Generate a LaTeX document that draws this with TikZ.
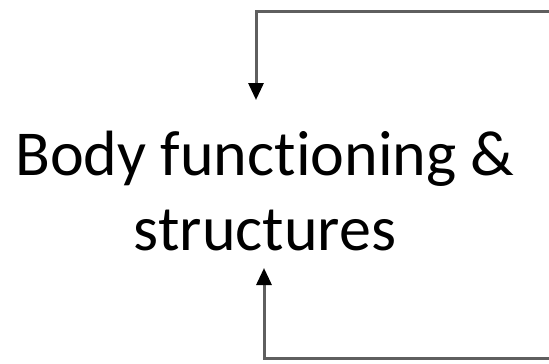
\documentclass[tikz,border=0pt]{standalone}
\usepackage{fontspec}
\setmainfont[Ligatures=NoCommon]{Carlito}
\usetikzlibrary{arrows.meta}
\definecolor{linegray}{RGB}{95,95,95}
\tikzset{
  feedback/.style={draw=linegray, line width=3pt, line join=miter,
    -{Triangle[width=15pt,length=17pt,color=black,fill=black]}},
  label/.style={align=center, font=\fontsize{64}{75}\selectfont, inner sep=0pt}
}
\begin{document}
\begin{tikzpicture}[x=1pt,y=-1pt]
\useasboundingbox (0,0) rectangle (549,364);
\node[label, anchor=base] (body) at (265,250) {Body functioning \&\\structures};
\coordinate (topstart) at (551,11);
\coordinate (topend) at (256,100);
\coordinate (botstart) at (551,358);
\coordinate (botend) at (264,268);
\draw[feedback] (topstart) -| (topend);
\draw[feedback] (botstart) -| (botend);
\end{tikzpicture}
\end{document}
